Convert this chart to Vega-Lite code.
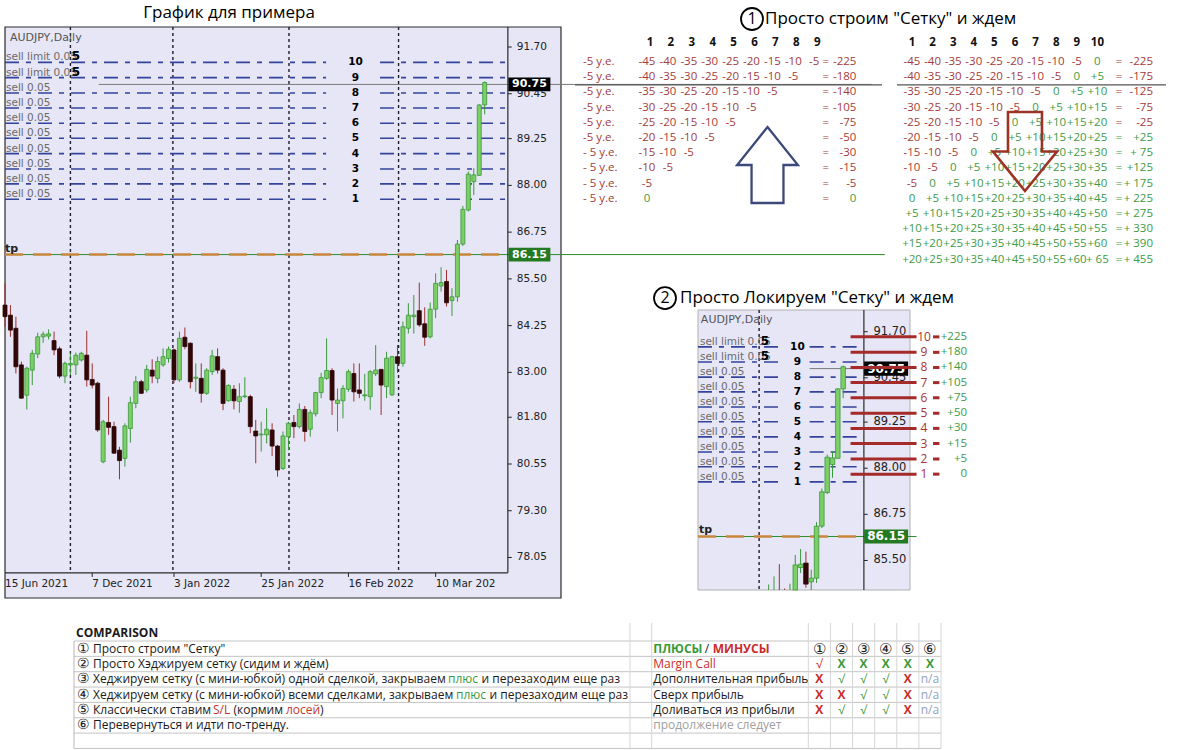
{
"$schema": "https://vega.github.io/schema/vega-lite/v6.json",
"background": "white",
"width": 1178, "height": 750,
"autosize": {"type": "none"},
"padding": 0,
"config": {"view": {"stroke": null}, "text": {"font": "Open Sans"}},
"resolve": {"scale": {"x": "independent", "y": "independent"}},
"datasets": {
"ohlc": [
{"i":0,"o":84.8,"h":85.38,"l":84.22,"c":84.49},
{"i":1,"o":84.53,"h":84.8,"l":83.95,"c":84.13},
{"i":2,"o":84.18,"h":84.49,"l":82.97,"c":83.15},
{"i":3,"o":83.2,"h":83.29,"l":82.3,"c":82.31},
{"i":4,"o":82.39,"h":83.15,"l":82.01,"c":83.11},
{"i":5,"o":83.06,"h":83.6,"l":82.66,"c":83.51},
{"i":6,"o":83.49,"h":84.06,"l":83.38,"c":83.95},
{"i":7,"o":83.95,"h":84.09,"l":83.79,"c":84.02},
{"i":8,"o":83.97,"h":84.15,"l":83.88,"c":84.03},
{"i":9,"o":83.85,"h":84.09,"l":83.46,"c":83.6},
{"i":10,"o":83.63,"h":83.69,"l":82.84,"c":82.9},
{"i":11,"o":82.9,"h":83.29,"l":82.71,"c":83.24},
{"i":12,"o":83.2,"h":83.51,"l":82.93,"c":83.24},
{"i":13,"o":83.2,"h":83.53,"l":82.93,"c":83.46},
{"i":14,"o":83.33,"h":83.55,"l":83.29,"c":83.51},
{"i":15,"o":83.46,"h":84.11,"l":82.62,"c":82.8},
{"i":16,"o":82.81,"h":83.24,"l":82.57,"c":82.66},
{"i":17,"o":82.71,"h":82.75,"l":81.41,"c":81.46},
{"i":18,"o":80.61,"h":81.73,"l":80.57,"c":81.68},
{"i":19,"o":81.66,"h":82.35,"l":81.33,"c":81.53},
{"i":20,"o":81.55,"h":81.68,"l":80.82,"c":80.84},
{"i":21,"o":80.92,"h":81.01,"l":80.14,"c":80.64},
{"i":22,"o":80.7,"h":81.64,"l":80.48,"c":81.57},
{"i":23,"o":81.5,"h":82.35,"l":81.12,"c":82.19},
{"i":24,"o":82.17,"h":82.9,"l":82.04,"c":82.75},
{"i":25,"o":82.75,"h":82.8,"l":82.42,"c":82.44},
{"i":26,"o":82.53,"h":83.2,"l":82.46,"c":83.08},
{"i":27,"o":83.06,"h":83.35,"l":82.71,"c":82.9},
{"i":28,"o":82.84,"h":83.42,"l":82.71,"c":83.29},
{"i":29,"o":83.2,"h":83.64,"l":83.15,"c":83.42},
{"i":30,"o":83.37,"h":83.69,"l":83.26,"c":83.62},
{"i":31,"o":83.6,"h":83.64,"l":82.71,"c":82.8},
{"i":32,"o":82.8,"h":84.09,"l":82.75,"c":83.91},
{"i":33,"o":83.94,"h":84.2,"l":83.62,"c":83.69},
{"i":34,"o":83.78,"h":83.8,"l":82.57,"c":82.75},
{"i":35,"o":82.84,"h":83.24,"l":82.48,"c":82.87},
{"i":36,"o":82.84,"h":83.24,"l":82.19,"c":82.44},
{"i":37,"o":82.44,"h":83.11,"l":82.4,"c":83.06},
{"i":38,"o":83.02,"h":83.6,"l":82.93,"c":83.44},
{"i":39,"o":83.42,"h":83.64,"l":82.97,"c":83.06},
{"i":40,"o":83.06,"h":83.11,"l":81.99,"c":82.17},
{"i":41,"o":82.24,"h":82.68,"l":82.22,"c":82.65},
{"i":42,"o":82.55,"h":82.66,"l":82.01,"c":82.24},
{"i":43,"o":82.22,"h":82.71,"l":81.92,"c":82.35},
{"i":44,"o":82.35,"h":82.87,"l":82.31,"c":82.37},
{"i":45,"o":82.35,"h":82.4,"l":81.37,"c":81.55},
{"i":46,"o":81.43,"h":81.73,"l":80.57,"c":81.3},
{"i":47,"o":81.33,"h":81.68,"l":80.88,"c":81.35},
{"i":48,"o":81.33,"h":82.04,"l":81.1,"c":81.48},
{"i":49,"o":81.46,"h":81.64,"l":80.76,"c":81.03},
{"i":50,"o":81.03,"h":81.06,"l":80.21,"c":80.39},
{"i":51,"o":80.43,"h":81.42,"l":80.39,"c":81.3},
{"i":52,"o":81.28,"h":81.68,"l":80.92,"c":81.64},
{"i":53,"o":81.66,"h":81.86,"l":81.24,"c":81.55},
{"i":54,"o":81.55,"h":82.17,"l":81.5,"c":82.01},
{"i":55,"o":82.01,"h":82.1,"l":81.15,"c":81.42},
{"i":56,"o":81.48,"h":82.0,"l":81.28,"c":81.92},
{"i":57,"o":81.89,"h":82.48,"l":81.82,"c":82.46},
{"i":58,"o":82.46,"h":82.99,"l":82.31,"c":82.86},
{"i":59,"o":82.84,"h":83.91,"l":82.8,"c":83.05},
{"i":60,"o":83.05,"h":83.11,"l":81.86,"c":82.26},
{"i":61,"o":82.17,"h":82.57,"l":81.42,"c":82.26},
{"i":62,"o":82.24,"h":82.66,"l":81.77,"c":82.57},
{"i":63,"o":82.55,"h":83.08,"l":82.48,"c":83.02},
{"i":64,"o":82.97,"h":83.24,"l":82.22,"c":82.48},
{"i":65,"o":82.53,"h":83.24,"l":82.31,"c":82.44},
{"i":66,"o":82.37,"h":82.96,"l":82.24,"c":82.4},
{"i":67,"o":82.35,"h":83.06,"l":82.0,"c":83.02},
{"i":68,"o":82.96,"h":83.73,"l":82.9,"c":83.06},
{"i":69,"o":83.08,"h":83.08,"l":81.86,"c":82.66},
{"i":70,"o":82.62,"h":83.55,"l":82.31,"c":83.38},
{"i":71,"o":82.4,"h":83.44,"l":82.37,"c":83.42},
{"i":72,"o":83.42,"h":83.73,"l":82.99,"c":83.24},
{"i":73,"o":83.24,"h":84.36,"l":83.15,"c":84.22},
{"i":74,"o":84.18,"h":84.85,"l":84.04,"c":84.53},
{"i":75,"o":84.49,"h":85.07,"l":84.04,"c":84.53},
{"i":76,"o":84.65,"h":85.4,"l":84.22,"c":84.27},
{"i":77,"o":84.3,"h":84.74,"l":83.71,"c":83.94},
{"i":78,"o":83.95,"h":84.87,"l":83.91,"c":84.69},
{"i":79,"o":84.69,"h":85.65,"l":84.45,"c":85.38},
{"i":80,"o":85.31,"h":85.81,"l":85.16,"c":85.4},
{"i":81,"o":85.43,"h":85.74,"l":84.76,"c":84.86},
{"i":82,"o":84.92,"h":85.25,"l":84.51,"c":85.02},
{"i":83,"o":85.02,"h":86.54,"l":84.89,"c":86.43},
{"i":84,"o":86.43,"h":87.45,"l":86.38,"c":87.36},
{"i":85,"o":87.34,"h":88.37,"l":87.3,"c":88.3},
{"i":86,"o":88.1,"h":88.46,"l":87.74,"c":88.28},
{"i":87,"o":88.27,"h":90.17,"l":88.25,"c":90.15},
{"i":88,"o":90.15,"h":90.78,"l":89.9,"c":90.75}
],
"levels": [
{"k":1,"p":87.63,"lab":"sell 0.05"},{"k":2,"p":88.04,"lab":"sell 0.05"},{"k":3,"p":88.44,"lab":"sell 0.05"},{"k":4,"p":88.85,"lab":"sell 0.05"},{"k":5,"p":89.26,"lab":"sell 0.05"},{"k":6,"p":89.66,"lab":"sell 0.05"},{"k":7,"p":90.07,"lab":"sell 0.05"},{"k":8,"p":90.47,"lab":"sell 0.05"},{"k":9,"p":90.88,"lab":"sell limit 0.05"},{"k":10,"p":91.29,"lab":"sell limit 0.05"}
],
"seps": [{"i":12},{"i":30.8},{"i":52.1},{"i":72.2}],
"yt": [{"v":91.7},{"v":90.45},{"v":89.25},{"v":88.0},{"v":86.75},{"v":85.5},{"v":84.25},{"v":83.0},{"v":81.8},{"v":80.55},{"v":79.3},{"v":78.05}],
"xt": [{"i":0,"lab":"15 Jun 2021"},{"i":16,"lab":"7 Dec 2021"},{"i":31,"lab":"3 Jan 2022"},{"i":47,"lab":"25 Jan 2022"},{"i":63,"lab":"16 Feb 2022"},{"i":79,"lab":"10 Mar 202"}],
"marks": [{"t":"90.75","p":90.7,"g":"bid"},{"t":"86.15","p":86.15,"g":"tp"}],
"hedge": [
{"k":1,"p":87.84,"v":"0"},{"k":2,"p":88.25,"v":"+5"},{"k":3,"p":88.67,"v":"+15"},{"k":4,"p":89.08,"v":"+30"},{"k":5,"p":89.49,"v":"+50"},{"k":6,"p":89.91,"v":"+75"},{"k":7,"p":90.32,"v":"+105"},{"k":8,"p":90.73,"v":"+140"},{"k":9,"p":91.14,"v":"+180"},{"k":10,"p":91.56,"v":"+225"}
],
"h1": [{"c":1,"t":"1"},{"c":2,"t":"2"},{"c":3,"t":"3"},{"c":4,"t":"4"},{"c":5,"t":"5"},{"c":6,"t":"6"},{"c":7,"t":"7"},{"c":8,"t":"8"},{"c":9,"t":"9"}],
"h2": [{"c":1,"t":"1"},{"c":2,"t":"2"},{"c":3,"t":"3"},{"c":4,"t":"4"},{"c":5,"t":"5"},{"c":6,"t":"6"},{"c":7,"t":"7"},{"c":8,"t":"8"},{"c":9,"t":"9"},{"c":10,"t":"10"}],
"t1": [
{"r":1,"c":1,"t":"-45"},{"r":1,"c":2,"t":"-40"},{"r":1,"c":3,"t":"-35"},{"r":1,"c":4,"t":"-30"},{"r":1,"c":5,"t":"-25"},{"r":1,"c":6,"t":"-20"},{"r":1,"c":7,"t":"-15"},{"r":1,"c":8,"t":"-10"},{"r":1,"c":9,"t":"-5"},
{"r":2,"c":1,"t":"-40"},{"r":2,"c":2,"t":"-35"},{"r":2,"c":3,"t":"-30"},{"r":2,"c":4,"t":"-25"},{"r":2,"c":5,"t":"-20"},{"r":2,"c":6,"t":"-15"},{"r":2,"c":7,"t":"-10"},{"r":2,"c":8,"t":"-5"},
{"r":3,"c":1,"t":"-35"},{"r":3,"c":2,"t":"-30"},{"r":3,"c":3,"t":"-25"},{"r":3,"c":4,"t":"-20"},{"r":3,"c":5,"t":"-15"},{"r":3,"c":6,"t":"-10"},{"r":3,"c":7,"t":"-5"},
{"r":4,"c":1,"t":"-30"},{"r":4,"c":2,"t":"-25"},{"r":4,"c":3,"t":"-20"},{"r":4,"c":4,"t":"-15"},{"r":4,"c":5,"t":"-10"},{"r":4,"c":6,"t":"-5"},
{"r":5,"c":1,"t":"-25"},{"r":5,"c":2,"t":"-20"},{"r":5,"c":3,"t":"-15"},{"r":5,"c":4,"t":"-10"},{"r":5,"c":5,"t":"-5"},
{"r":6,"c":1,"t":"-20"},{"r":6,"c":2,"t":"-15"},{"r":6,"c":3,"t":"-10"},{"r":6,"c":4,"t":"-5"},
{"r":7,"c":1,"t":"-15"},{"r":7,"c":2,"t":"-10"},{"r":7,"c":3,"t":"-5"},
{"r":8,"c":1,"t":"-10"},{"r":8,"c":2,"t":"-5"},
{"r":9,"c":1,"t":"-5"},
{"r":10,"c":1,"t":"0"}
],
"t1r": [
{"r":1,"lab":"-5 у.е.","s":"-225"},{"r":2,"lab":"-5 у.е.","s":"-180"},{"r":3,"lab":"-5 у.е.","s":"-140"},{"r":4,"lab":"-5 у.е.","s":"-105"},{"r":5,"lab":"-5 у.е.","s":"-75"},{"r":6,"lab":"-5 у.е.","s":"-50"},{"r":7,"lab":"- 5 у.е.","s":"-30"},{"r":8,"lab":"- 5 у.е.","s":"-15"},{"r":9,"lab":"- 5 у.е.","s":"-5"},{"r":10,"lab":"- 5 у.е.","s":"0"}
],
"t2": [
{"r":1,"c":1,"t":"-45"},{"r":1,"c":2,"t":"-40"},{"r":1,"c":3,"t":"-35"},{"r":1,"c":4,"t":"-30"},{"r":1,"c":5,"t":"-25"},{"r":1,"c":6,"t":"-20"},{"r":1,"c":7,"t":"-15"},{"r":1,"c":8,"t":"-10"},{"r":1,"c":9,"t":"-5"},{"r":1,"c":10,"t":"0"},
{"r":2,"c":1,"t":"-40"},{"r":2,"c":2,"t":"-35"},{"r":2,"c":3,"t":"-30"},{"r":2,"c":4,"t":"-25"},{"r":2,"c":5,"t":"-20"},{"r":2,"c":6,"t":"-15"},{"r":2,"c":7,"t":"-10"},{"r":2,"c":8,"t":"-5"},{"r":2,"c":9,"t":"0"},{"r":2,"c":10,"t":"+5"},
{"r":3,"c":1,"t":"-35"},{"r":3,"c":2,"t":"-30"},{"r":3,"c":3,"t":"-25"},{"r":3,"c":4,"t":"-20"},{"r":3,"c":5,"t":"-15"},{"r":3,"c":6,"t":"-10"},{"r":3,"c":7,"t":"-5"},{"r":3,"c":8,"t":"0"},{"r":3,"c":9,"t":"+5"},{"r":3,"c":10,"t":"+10"},
{"r":4,"c":1,"t":"-30"},{"r":4,"c":2,"t":"-25"},{"r":4,"c":3,"t":"-20"},{"r":4,"c":4,"t":"-15"},{"r":4,"c":5,"t":"-10"},{"r":4,"c":6,"t":"-5"},{"r":4,"c":7,"t":"0"},{"r":4,"c":8,"t":"+5"},{"r":4,"c":9,"t":"+10"},{"r":4,"c":10,"t":"+15"},
{"r":5,"c":1,"t":"-25"},{"r":5,"c":2,"t":"-20"},{"r":5,"c":3,"t":"-15"},{"r":5,"c":4,"t":"-10"},{"r":5,"c":5,"t":"-5"},{"r":5,"c":6,"t":"0"},{"r":5,"c":7,"t":"+5"},{"r":5,"c":8,"t":"+10"},{"r":5,"c":9,"t":"+15"},{"r":5,"c":10,"t":"+20"},
{"r":6,"c":1,"t":"-20"},{"r":6,"c":2,"t":"-15"},{"r":6,"c":3,"t":"-10"},{"r":6,"c":4,"t":"-5"},{"r":6,"c":5,"t":"0"},{"r":6,"c":6,"t":"+5"},{"r":6,"c":7,"t":"+10"},{"r":6,"c":8,"t":"+15"},{"r":6,"c":9,"t":"+20"},{"r":6,"c":10,"t":"+25"},
{"r":7,"c":1,"t":"-15"},{"r":7,"c":2,"t":"-10"},{"r":7,"c":3,"t":"-5"},{"r":7,"c":4,"t":"0"},{"r":7,"c":5,"t":"+5"},{"r":7,"c":6,"t":"+10"},{"r":7,"c":7,"t":"+15"},{"r":7,"c":8,"t":"+20"},{"r":7,"c":9,"t":"+25"},{"r":7,"c":10,"t":"+30"},
{"r":8,"c":1,"t":"-10"},{"r":8,"c":2,"t":"-5"},{"r":8,"c":3,"t":"0"},{"r":8,"c":4,"t":"+5"},{"r":8,"c":5,"t":"+10"},{"r":8,"c":6,"t":"+15"},{"r":8,"c":7,"t":"+20"},{"r":8,"c":8,"t":"+25"},{"r":8,"c":9,"t":"+30"},{"r":8,"c":10,"t":"+35"},
{"r":9,"c":1,"t":"-5"},{"r":9,"c":2,"t":"0"},{"r":9,"c":3,"t":"+5"},{"r":9,"c":4,"t":"+10"},{"r":9,"c":5,"t":"+15"},{"r":9,"c":6,"t":"+20"},{"r":9,"c":7,"t":"+25"},{"r":9,"c":8,"t":"+30"},{"r":9,"c":9,"t":"+35"},{"r":9,"c":10,"t":"+40"},
{"r":10,"c":1,"t":"0"},{"r":10,"c":2,"t":"+5"},{"r":10,"c":3,"t":"+10"},{"r":10,"c":4,"t":"+15"},{"r":10,"c":5,"t":"+20"},{"r":10,"c":6,"t":"+25"},{"r":10,"c":7,"t":"+30"},{"r":10,"c":8,"t":"+35"},{"r":10,"c":9,"t":"+40"},{"r":10,"c":10,"t":"+45"},
{"r":11,"c":1,"t":"+5"},{"r":11,"c":2,"t":"+10"},{"r":11,"c":3,"t":"+15"},{"r":11,"c":4,"t":"+20"},{"r":11,"c":5,"t":"+25"},{"r":11,"c":6,"t":"+30"},{"r":11,"c":7,"t":"+35"},{"r":11,"c":8,"t":"+40"},{"r":11,"c":9,"t":"+45"},{"r":11,"c":10,"t":"+50"},
{"r":12,"c":1,"t":"+10"},{"r":12,"c":2,"t":"+15"},{"r":12,"c":3,"t":"+20"},{"r":12,"c":4,"t":"+25"},{"r":12,"c":5,"t":"+30"},{"r":12,"c":6,"t":"+35"},{"r":12,"c":7,"t":"+40"},{"r":12,"c":8,"t":"+45"},{"r":12,"c":9,"t":"+50"},{"r":12,"c":10,"t":"+55"},
{"r":13,"c":1,"t":"+15"},{"r":13,"c":2,"t":"+20"},{"r":13,"c":3,"t":"+25"},{"r":13,"c":4,"t":"+30"},{"r":13,"c":5,"t":"+35"},{"r":13,"c":6,"t":"+40"},{"r":13,"c":7,"t":"+45"},{"r":13,"c":8,"t":"+50"},{"r":13,"c":9,"t":"+55"},{"r":13,"c":10,"t":"+60"},
{"r":14,"c":1,"t":"+20"},{"r":14,"c":2,"t":"+25"},{"r":14,"c":3,"t":"+30"},{"r":14,"c":4,"t":"+35"},{"r":14,"c":5,"t":"+40"},{"r":14,"c":6,"t":"+45"},{"r":14,"c":7,"t":"+50"},{"r":14,"c":8,"t":"+55"},{"r":14,"c":9,"t":"+60"},{"r":14,"c":10,"t":"+ 65"}
],
"t2r": [
{"r":1,"s":"-225"},{"r":2,"s":"-175"},{"r":3,"s":"-125"},{"r":4,"s":"-75"},{"r":5,"s":"-25"},{"r":6,"s":"+25"},{"r":7,"s":"+ 75"},{"r":8,"s":"+125"},{"r":9,"s":"+ 175"},{"r":10,"s":"+ 225"},{"r":11,"s":"+ 275"},{"r":12,"s":"+ 330"},{"r":13,"s":"+ 390"},{"r":14,"s":"+ 455"}
],
"desc": [
{"r":1,"n":"①","t":"Просто строим \"Сетку\""},
{"r":2,"n":"②","t":"Просто Хэджируем сетку (сидим и ждём)"},
{"r":3,"n":"③","t":"Хеджируем сетку (с мини-юбкой) одной сделкой, закрываем"},
{"r":4,"n":"④","t":"Хеджируем сетку (с мини-юбкой) всеми сделками, закрываем"},
{"r":5,"n":"⑤","t":"Классически ставим"},
{"r":6,"n":"⑥","t":"Перевернуться и идти по-тренду."}
],
"pm": [
{"r":2,"t":"Margin Call","k":"bad"},{"r":3,"t":"Дополнительная прибыль","k":"neutral"},{"r":4,"t":"Сверх прибыль","k":"neutral"},{"r":5,"t":"Доливаться из прибыли","k":"neutral"},{"r":6,"t":"продолжение следует","k":"later"}
],
"cmp": [
{"r":1,"c":3.5,"t":"①","k":"neutral"},{"r":1,"c":4.5,"t":"②","k":"neutral"},{"r":1,"c":5.5,"t":"③","k":"neutral"},{"r":1,"c":6.5,"t":"④","k":"neutral"},{"r":1,"c":7.5,"t":"⑤","k":"neutral"},{"r":1,"c":8.5,"t":"⑥","k":"neutral"},
{"r":2,"c":3.5,"t":"√","k":"bad"},{"r":2,"c":4.5,"t":"X","k":"good"},{"r":2,"c":5.5,"t":"X","k":"good"},{"r":2,"c":6.5,"t":"X","k":"good"},{"r":2,"c":7.5,"t":"X","k":"good"},{"r":2,"c":8.5,"t":"X","k":"good"},
{"r":3,"c":3.5,"t":"X","k":"bad"},{"r":3,"c":4.5,"t":"√","k":"good"},{"r":3,"c":5.5,"t":"√","k":"good"},{"r":3,"c":6.5,"t":"√","k":"good"},{"r":3,"c":7.5,"t":"X","k":"bad"},{"r":3,"c":8.5,"t":"n/a","k":"na"},
{"r":4,"c":3.5,"t":"X","k":"bad"},{"r":4,"c":4.5,"t":"X","k":"bad"},{"r":4,"c":5.5,"t":"√","k":"good"},{"r":4,"c":6.5,"t":"√","k":"good"},{"r":4,"c":7.5,"t":"X","k":"bad"},{"r":4,"c":8.5,"t":"n/a","k":"na"},
{"r":5,"c":3.5,"t":"X","k":"bad"},{"r":5,"c":4.5,"t":"√","k":"good"},{"r":5,"c":5.5,"t":"√","k":"good"},{"r":5,"c":6.5,"t":"√","k":"good"},{"r":5,"c":7.5,"t":"X","k":"bad"},{"r":5,"c":8.5,"t":"n/a","k":"na"}
]
},
"layer": [
{
"layer": [
{"data": {"values": [{}]}, "mark": {"type": "rect", "fill": "#e6e6f7", "stroke": "#2a2a2a", "strokeWidth": 1.2},
 "encoding": {
  "x": {"datum": 0, "type": "quantitative", "scale": {"domain": [0, 102], "range": [0, 566], "nice": false, "zero": false}, "axis": null},
  "x2": {"datum": 102},
  "y": {"datum": 76.967, "type": "quantitative", "scale": {"domain": [76.967, 92.235], "range": [598, 27], "nice": false, "zero": false}, "axis": null},
  "y2": {"datum": 92.235}}},
{"data": {"name": "yt"}, "mark": {"type": "rule", "color": "#222", "strokeWidth": 1},
 "encoding": {"x": {"datum": 92.25, "type": "quantitative", "axis": null}, "x2": {"datum": 92.97}, "y": {"field": "v", "type": "quantitative", "axis": null}}},
{"data": {"name": "yt"}, "mark": {"type": "text", "align": "left", "baseline": "middle", "font": "DejaVu Sans", "fontSize": 10.5, "color": "#222"},
 "encoding": {"x": {"datum": 93.9, "type": "quantitative", "axis": null}, "y": {"field": "v", "type": "quantitative", "axis": null}, "text": {"field": "v", "type": "quantitative", "format": ".2f"}}},
{"data": {"name": "xt"}, "transform": [{"filter": "datum.i > 0"}], "mark": {"type": "rule", "color": "#222", "strokeWidth": 1},
 "encoding": {"x": {"field": "i", "type": "quantitative", "axis": null}, "y": {"datum": 77.64, "type": "quantitative", "axis": null}, "y2": {"datum": 77.53}}},
{"data": {"name": "xt"}, "mark": {"type": "text", "align": "left", "baseline": "top", "font": "DejaVu Sans", "fontSize": 10.5, "color": "#222"},
 "encoding": {"x": {"field": "i", "type": "quantitative", "axis": null}, "y": {"datum": 77.476, "type": "quantitative", "axis": null}, "text": {"field": "lab"}}},
{"data": {"name": "seps"}, "mark": {"type": "rule", "strokeDash": [3, 3], "strokeWidth": 1.4, "color": "#1c1c2c"},
 "encoding": {"x": {"field": "i", "type": "quantitative", "axis": null}, "y": {"datum": 92.235, "type": "quantitative", "axis": null}, "y2": {"datum": 77.64}}},
{"data": {"values": [{}]}, "mark": {"type": "rule", "color": "#2e8b2e", "strokeWidth": 1},
 "encoding": {"x": {"datum": 0, "type": "quantitative", "axis": null}, "x2": {"datum": 161.4}, "y": {"datum": 86.15, "type": "quantitative", "axis": null}}},
{"data": {"values": [{}]}, "mark": {"type": "rule", "color": "#c9873c", "strokeWidth": 2.6, "strokeDash": [18, 10]},
 "encoding": {"x": {"datum": 0, "type": "quantitative", "axis": null}, "x2": {"datum": 92.25}, "y": {"datum": 86.15, "type": "quantitative", "axis": null}}},
{"data": {"name": "levels"}, "mark": {"type": "rule", "color": "#34449a", "strokeWidth": 1.6, "strokeDash": [14, 7, 5, 7]},
 "encoding": {"x": {"datum": 0, "type": "quantitative", "axis": null}, "x2": {"datum": 58.9}, "y": {"field": "p", "type": "quantitative", "axis": null}}},
{"data": {"name": "levels"}, "mark": {"type": "rule", "color": "#34449a", "strokeWidth": 1.6, "strokeDash": [14, 7, 5, 7]},
 "encoding": {"x": {"datum": 68.8, "type": "quantitative", "axis": null}, "x2": {"datum": 92.25}, "y": {"field": "p", "type": "quantitative", "axis": null}}},
{"data": {"values": [{}]}, "mark": {"type": "rule", "color": "#7a7a7a", "strokeWidth": 1},
 "encoding": {"x": {"datum": 17.2, "type": "quantitative", "axis": null}, "x2": {"datum": 159}, "y": {"datum": 90.7, "type": "quantitative", "axis": null}}},
{"data": {"name": "ohlc"}, "mark": {"type": "rule", "clip": true, "strokeWidth": 1},
 "encoding": {"x": {"field": "i", "type": "quantitative", "axis": null}, "y": {"field": "l", "type": "quantitative", "axis": null}, "y2": {"field": "h"},
  "color": {"condition": {"test": "datum.c >= datum.o", "value": "#3a983a"}, "value": "#9e2f2f"}}},
{"data": {"name": "ohlc"}, "mark": {"type": "bar", "size": 4, "clip": true, "strokeWidth": 0.8},
 "encoding": {"x": {"field": "i", "type": "quantitative", "axis": null}, "y": {"field": "o", "type": "quantitative", "axis": null}, "y2": {"field": "c"},
  "fill": {"condition": {"test": "datum.c >= datum.o", "value": "#7ccf66"}, "value": "#300606"},
  "stroke": {"condition": {"test": "datum.c >= datum.o", "value": "#3a983a"}, "value": "#300606"}}},
{"data": {"name": "levels"}, "mark": {"type": "text", "align": "left", "baseline": "bottom", "font": "DejaVu Sans", "fontSize": 10.5, "color": "#6b6b6b", "dx": 1},
 "encoding": {"x": {"datum": 0, "type": "quantitative", "axis": null}, "y": {"field": "p", "type": "quantitative", "axis": null}, "text": {"field": "lab"}}},
{"data": {"name": "levels"}, "transform": [{"filter": "datum.k >= 9"}], "mark": {"type": "text", "align": "center", "baseline": "bottom", "font": "DejaVu Sans", "fontSize": 12, "fontWeight": "bold", "color": "#000", "dy": 1},
 "encoding": {"x": {"datum": 13.0, "type": "quantitative", "axis": null}, "y": {"field": "p", "type": "quantitative", "axis": null}, "text": {"value": "5"}}},
{"data": {"name": "levels"}, "mark": {"type": "text", "align": "center", "baseline": "middle", "font": "DejaVu Sans", "fontSize": 10.5, "fontWeight": "bold", "color": "#000"},
 "encoding": {"x": {"datum": 64.3, "type": "quantitative", "axis": null}, "y": {"field": "p", "type": "quantitative", "axis": null}, "text": {"field": "k"}}},
{"data": {"values": [{"t": "AUDJPY,Daily"}]}, "mark": {"type": "text", "align": "left", "baseline": "middle", "font": "DejaVu Sans", "fontSize": 11, "color": "#555"},
 "encoding": {"x": {"datum": 0.9, "type": "quantitative", "axis": null}, "y": {"datum": 91.94, "type": "quantitative", "axis": null}, "text": {"field": "t"}}},
{"data": {"values": [{"t": "tp"}]}, "mark": {"type": "text", "align": "left", "baseline": "bottom", "font": "DejaVu Sans", "fontSize": 11, "fontWeight": "bold", "color": "#222", "dy": -1},
 "encoding": {"x": {"datum": 0, "type": "quantitative", "axis": null}, "y": {"datum": 86.15, "type": "quantitative", "axis": null}, "text": {"field": "t"}}},
{"data": {"values": [{"t": "График для примера"}]}, "mark": {"type": "text", "align": "center", "baseline": "middle", "font": "Open Sans", "fontSize": 17, "color": "#000"},
 "encoding": {"x": {"datum": 41.1, "type": "quantitative", "axis": null}, "y": {"datum": 92.609, "type": "quantitative", "axis": null}, "text": {"field": "t"}}},
{"data": {"values": [{}]}, "mark": {"type": "rule", "color": "#2a2a2a", "strokeWidth": 1.2},
 "encoding": {"x": {"datum": 92.25, "type": "quantitative", "axis": null}, "y": {"datum": 92.235, "type": "quantitative", "axis": null}, "y2": {"datum": 77.64}}},
{"data": {"values": [{}]}, "mark": {"type": "rule", "color": "#2a2a2a", "strokeWidth": 1.2},
 "encoding": {"x": {"datum": 0, "type": "quantitative", "axis": null}, "x2": {"datum": 92.25}, "y": {"datum": 77.64, "type": "quantitative", "axis": null}}},
{"data": {"name": "marks"}, "mark": {"type": "point", "shape": "M-1,-0.33L1,-0.33L1,0.33L-1,0.33Z", "size": 1764, "filled": true, "opacity": 1, "strokeWidth": 0},
 "encoding": {"x": {"datum": 96.2, "type": "quantitative", "axis": null}, "y": {"field": "p", "type": "quantitative", "axis": null},
  "fill": {"condition": {"test": "datum.g == 'tp'", "value": "#237a23"}, "value": "#000"}}},
{"data": {"name": "marks"}, "mark": {"type": "text", "align": "center", "baseline": "middle", "font": "DejaVu Sans", "fontSize": 11, "fontWeight": "bold", "color": "#fff"},
 "encoding": {"x": {"datum": 96.2, "type": "quantitative", "axis": null}, "y": {"field": "p", "type": "quantitative", "axis": null}, "text": {"field": "t"}}}
]
},
{
"layer": [
{"data": {"values": [{}]}, "mark": {"type": "rule", "color": "#555", "strokeWidth": 1.2},
 "encoding": {"x": {"datum": -2.445, "type": "quantitative", "scale": {"domain": [-2.445, 12.244], "range": [575, 882], "nice": false, "zero": false}, "axis": null}, "x2": {"datum": 12.244},
  "y": {"datum": 2.5, "type": "quantitative", "scale": {"domain": [-1.303, 14.684], "range": [27, 270], "nice": false, "zero": false}, "axis": null}}},
{"data": {"name": "t1r"}, "mark": {"type": "text", "align": "left", "baseline": "middle", "fontSize": 11.5, "color": "#a33b3b"},
 "encoding": {"x": {"datum": -2.06, "type": "quantitative", "axis": null}, "y": {"field": "r", "type": "quantitative", "axis": null}, "text": {"field": "lab"}}},
{"data": {"name": "t1"}, "mark": {"type": "text", "align": "center", "baseline": "middle", "fontSize": 11.5},
 "encoding": {"x": {"field": "c", "type": "quantitative", "axis": null}, "y": {"field": "r", "type": "quantitative", "axis": null}, "text": {"field": "t"},
  "color": {"condition": {"test": "datum.t[0] == '-'", "value": "#a33b3b"}, "value": "#3d9a45"}}},
{"data": {"name": "t1r"}, "mark": {"type": "text", "align": "center", "baseline": "middle", "fontSize": 11.5, "color": "#a33b3b"},
 "encoding": {"x": {"datum": 9.55, "type": "quantitative", "axis": null}, "y": {"field": "r", "type": "quantitative", "axis": null}, "text": {"value": "="}}},
{"data": {"name": "t1r"}, "mark": {"type": "text", "align": "right", "baseline": "middle", "fontSize": 11.5},
 "encoding": {"x": {"datum": 11.02, "type": "quantitative", "axis": null}, "y": {"field": "r", "type": "quantitative", "axis": null}, "text": {"field": "s"},
  "color": {"condition": {"test": "datum.s[0] == '-'", "value": "#a33b3b"}, "value": "#3d9a45"}}},
{"data": {"name": "h1"}, "mark": {"type": "text", "align": "center", "baseline": "middle", "fontSize": 11.5, "fontWeight": "bold", "color": "#111", "dx": 3},
 "encoding": {"x": {"field": "c", "type": "quantitative", "axis": null}, "y": {"datum": -0.25, "type": "quantitative", "axis": null}, "text": {"field": "t"}}},
{"data": {"values": [{}]}, "mark": {"type": "point", "shape": "M0,-1L0.8,0L0.42,0L0.42,1L-0.42,1L-0.42,0L-0.8,0Z", "size": 5776, "filled": false, "opacity": 1, "stroke": "#3b4a7a", "strokeWidth": 2.3},
 "encoding": {"x": {"datum": 6.766, "type": "quantitative", "axis": null}, "y": {"datum": 7.776, "type": "quantitative", "axis": null}}},
{"data": {"values": [{"x": 6.024, "y": -1.829}, {"x": 1.861, "y": 16.53}]}, "mark": {"type": "point", "shape": "circle", "size": 484, "filled": false, "opacity": 1, "stroke": "#000", "strokeWidth": 1.8},
 "encoding": {"x": {"field": "x", "type": "quantitative", "axis": null}, "y": {"field": "y", "type": "quantitative", "axis": null}}},
{"data": {"values": [{"x": 6.024, "y": -1.829, "t": "1"}, {"x": 1.861, "y": 16.53, "t": "2"}]}, "mark": {"type": "text", "align": "center", "baseline": "middle", "fontSize": 16, "color": "#000"},
 "encoding": {"x": {"field": "x", "type": "quantitative", "axis": null}, "y": {"field": "y", "type": "quantitative", "axis": null}, "text": {"field": "t"}}},
{"data": {"values": [{"t": "Просто строим \"Сетку\" и ждем"}]}, "mark": {"type": "text", "align": "left", "baseline": "middle", "fontSize": 17, "color": "#000"},
 "encoding": {"x": {"datum": 6.646, "type": "quantitative", "axis": null}, "y": {"datum": -1.829, "type": "quantitative", "axis": null}, "text": {"field": "t"}}},
{"data": {"values": [{"t": "Просто Локируем \"Сетку\" и ждем"}]}, "mark": {"type": "text", "align": "left", "baseline": "middle", "fontSize": 17, "color": "#000"},
 "encoding": {"x": {"datum": 2.579, "type": "quantitative", "axis": null}, "y": {"datum": 16.53, "type": "quantitative", "axis": null}, "text": {"field": "t"}}}
]
},
{
"layer": [
{"data": {"values": [{}]}, "mark": {"type": "rule", "color": "#555", "strokeWidth": 1.2},
 "encoding": {"x": {"datum": 0.272, "type": "quantitative", "scale": {"domain": [0.175, 13.913], "range": [895, 1178], "nice": false, "zero": false}, "axis": null}, "x2": {"datum": 13.33},
  "y": {"datum": 2.5, "type": "quantitative", "scale": {"domain": [-1.303, 14.684], "range": [27, 270], "nice": false, "zero": false}, "axis": null}}},
{"data": {"name": "t2"}, "mark": {"type": "text", "align": "center", "baseline": "middle", "fontSize": 11.5},
 "encoding": {"x": {"field": "c", "type": "quantitative", "axis": null}, "y": {"field": "r", "type": "quantitative", "axis": null}, "text": {"field": "t"},
  "color": {"condition": {"test": "datum.t[0] == '-'", "value": "#a33b3b"}, "value": "#3d9a45"}}},
{"data": {"name": "t2r"}, "mark": {"type": "text", "align": "center", "baseline": "middle", "fontSize": 11.5},
 "encoding": {"x": {"datum": 11.05, "type": "quantitative", "axis": null}, "y": {"field": "r", "type": "quantitative", "axis": null}, "text": {"value": "="},
  "color": {"condition": {"test": "datum.s[0] == '-'", "value": "#a33b3b"}, "value": "#3d9a45"}}},
{"data": {"name": "t2r"}, "mark": {"type": "text", "align": "right", "baseline": "middle", "fontSize": 11.5},
 "encoding": {"x": {"datum": 12.7, "type": "quantitative", "axis": null}, "y": {"field": "r", "type": "quantitative", "axis": null}, "text": {"field": "s"},
  "color": {"condition": {"test": "datum.s[0] == '-'", "value": "#a33b3b"}, "value": "#3d9a45"}}},
{"data": {"name": "h2"}, "mark": {"type": "text", "align": "center", "baseline": "middle", "fontSize": 11.5, "fontWeight": "bold", "color": "#111"},
 "encoding": {"x": {"field": "c", "type": "quantitative", "axis": null}, "y": {"datum": -0.25, "type": "quantitative", "axis": null}, "text": {"field": "t"}}},
{"data": {"values": [{}]}, "mark": {"type": "point", "shape": "M-0.43,-1L0.43,-1L0.43,0L0.81,0L0,1L-0.81,0L-0.43,0Z", "size": 6241, "filled": false, "opacity": 1, "stroke": "#9c3426", "strokeWidth": 2.6},
 "encoding": {"x": {"datum": 6.485, "type": "quantitative", "axis": null}, "y": {"datum": 6.888, "type": "quantitative", "axis": null}}}
]
},
{
"layer": [
{"data": {"values": [{}]}, "mark": {"type": "rect", "fill": "#e6e6f7", "stroke": "#b0b0b0", "strokeWidth": 1},
 "encoding": {"x": {"datum": 60.71, "type": "quantitative", "scale": {"domain": [60.71, 100.57], "range": [693, 915], "nice": false, "zero": false}, "axis": null}, "x2": {"datum": 100.57},
  "y": {"datum": 84.7, "type": "quantitative", "scale": {"domain": [84.7, 92.288], "range": [590, 310], "nice": false, "zero": false, "clamp": true}, "axis": null},
  "y2": {"datum": 92.288}}},
{"data": {"name": "yt"}, "transform": [{"filter": "datum.v > 85"}], "mark": {"type": "rule", "color": "#222", "strokeWidth": 1},
 "encoding": {"x": {"datum": 91.9, "type": "quantitative", "axis": null}, "x2": {"datum": 92.62}, "y": {"field": "v", "type": "quantitative", "axis": null}}},
{"data": {"name": "yt"}, "transform": [{"filter": "datum.v > 85"}], "mark": {"type": "text", "align": "left", "baseline": "middle", "font": "DejaVu Sans", "fontSize": 11.5, "color": "#222"},
 "encoding": {"x": {"datum": 93.69, "type": "quantitative", "axis": null}, "y": {"field": "v", "type": "quantitative", "axis": null}, "text": {"field": "v", "type": "quantitative", "format": ".2f"}}},
{"data": {"values": [{}]}, "mark": {"type": "rule", "color": "#2e8b2e", "strokeWidth": 1},
 "encoding": {"x": {"datum": 60.71, "type": "quantitative", "axis": null}, "x2": {"datum": 101.8}, "y": {"datum": 86.15, "type": "quantitative", "axis": null}}},
{"data": {"name": "seps"}, "transform": [{"filter": "datum.i > 61"}], "mark": {"type": "rule", "strokeDash": [3, 3], "strokeWidth": 1.4, "color": "#1c1c2c"},
 "encoding": {"x": {"field": "i", "type": "quantitative", "axis": null}, "y": {"datum": 92.288, "type": "quantitative", "axis": null}, "y2": {"datum": 84.7}}},
{"data": {"values": [{}]}, "mark": {"type": "rule", "color": "#2a2a2a", "strokeWidth": 1.2},
 "encoding": {"x": {"datum": 91.9, "type": "quantitative", "axis": null}, "y": {"datum": 92.288, "type": "quantitative", "axis": null}, "y2": {"datum": 84.7}}},
{"data": {"values": [{}]}, "mark": {"type": "rule", "color": "#c9873c", "strokeWidth": 2.6, "strokeDash": [18, 10]},
 "encoding": {"x": {"datum": 60.71, "type": "quantitative", "axis": null}, "x2": {"datum": 91.9}, "y": {"datum": 86.15, "type": "quantitative", "axis": null}}},
{"data": {"name": "levels"}, "mark": {"type": "rule", "color": "#34449a", "strokeWidth": 1.6, "strokeDash": [14, 7, 5, 7]},
 "encoding": {"x": {"datum": 60.71, "type": "quantitative", "axis": null}, "x2": {"datum": 76.9}, "y": {"field": "p", "type": "quantitative", "axis": null}}},
{"data": {"name": "levels"}, "mark": {"type": "rule", "color": "#34449a", "strokeWidth": 1.6, "strokeDash": [14, 7, 5, 7]},
 "encoding": {"x": {"datum": 81.7, "type": "quantitative", "axis": null}, "x2": {"datum": 91.9}, "y": {"field": "p", "type": "quantitative", "axis": null}}},
{"data": {"values": [{}]}, "mark": {"type": "rule", "color": "#7a7a7a", "strokeWidth": 1},
 "encoding": {"x": {"datum": 81.7, "type": "quantitative", "axis": null}, "x2": {"datum": 91.9}, "y": {"datum": 90.7, "type": "quantitative", "axis": null}}},
{"data": {"name": "ohlc"}, "transform": [{"filter": "datum.i >= 62 && datum.h > 84.7"}], "mark": {"type": "rule", "strokeWidth": 1},
 "encoding": {"x": {"field": "i", "type": "quantitative", "axis": null}, "y": {"field": "l", "type": "quantitative", "axis": null}, "y2": {"field": "h"},
  "color": {"condition": {"test": "datum.c >= datum.o", "value": "#3a983a"}, "value": "#9e2f2f"}}},
{"data": {"name": "ohlc"}, "transform": [{"filter": "datum.i >= 62 && (datum.o > 84.7 || datum.c > 84.7)"}], "mark": {"type": "bar", "size": 4.5, "strokeWidth": 0.8},
 "encoding": {"x": {"field": "i", "type": "quantitative", "axis": null}, "y": {"field": "o", "type": "quantitative", "axis": null}, "y2": {"field": "c"},
  "fill": {"condition": {"test": "datum.c >= datum.o", "value": "#7ccf66"}, "value": "#300606"},
  "stroke": {"condition": {"test": "datum.c >= datum.o", "value": "#3a983a"}, "value": "#300606"}}},
{"data": {"name": "levels"}, "mark": {"type": "text", "align": "left", "baseline": "bottom", "font": "DejaVu Sans", "fontSize": 10.5, "color": "#6b6b6b"},
 "encoding": {"x": {"datum": 61.07, "type": "quantitative", "axis": null}, "y": {"field": "p", "type": "quantitative", "axis": null}, "text": {"field": "lab"}}},
{"data": {"name": "levels"}, "transform": [{"filter": "datum.k >= 9"}], "mark": {"type": "text", "align": "center", "baseline": "bottom", "font": "DejaVu Sans", "fontSize": 12, "fontWeight": "bold", "color": "#000", "dy": 1},
 "encoding": {"x": {"datum": 73.3, "type": "quantitative", "axis": null}, "y": {"field": "p", "type": "quantitative", "axis": null}, "text": {"value": "5"}}},
{"data": {"name": "levels"}, "mark": {"type": "text", "align": "center", "baseline": "middle", "font": "DejaVu Sans", "fontSize": 10.5, "fontWeight": "bold", "color": "#000"},
 "encoding": {"x": {"datum": 79.4, "type": "quantitative", "axis": null}, "y": {"field": "p", "type": "quantitative", "axis": null}, "text": {"field": "k"}}},
{"data": {"values": [{"t": "AUDJPY,Daily"}]}, "mark": {"type": "text", "align": "left", "baseline": "middle", "font": "DejaVu Sans", "fontSize": 11, "color": "#555"},
 "encoding": {"x": {"datum": 61.25, "type": "quantitative", "axis": null}, "y": {"datum": 92.02, "type": "quantitative", "axis": null}, "text": {"field": "t"}}},
{"data": {"values": [{"t": "tp"}]}, "mark": {"type": "text", "align": "left", "baseline": "bottom", "font": "DejaVu Sans", "fontSize": 11, "fontWeight": "bold", "color": "#222", "dx": 1, "dy": -1},
 "encoding": {"x": {"datum": 60.71, "type": "quantitative", "axis": null}, "y": {"datum": 86.15, "type": "quantitative", "axis": null}, "text": {"field": "t"}}},
{"data": {"name": "marks"}, "mark": {"type": "point", "shape": "M-1,-0.32L1,-0.32L1,0.32L-1,0.32Z", "size": 1936, "filled": true, "opacity": 1, "strokeWidth": 0},
 "encoding": {"x": {"datum": 96.08, "type": "quantitative", "axis": null}, "y": {"field": "p", "type": "quantitative", "axis": null},
  "fill": {"condition": {"test": "datum.g == 'tp'", "value": "#237a23"}, "value": "#000"}}},
{"data": {"name": "marks"}, "mark": {"type": "text", "align": "center", "baseline": "middle", "font": "DejaVu Sans", "fontSize": 12, "fontWeight": "bold", "color": "#fff"},
 "encoding": {"x": {"datum": 96.08, "type": "quantitative", "axis": null}, "y": {"field": "p", "type": "quantitative", "axis": null}, "text": {"field": "t"}}},
{"data": {"name": "hedge"}, "mark": {"type": "rule", "color": "#a52a2a", "strokeWidth": 3},
 "encoding": {"x": {"datum": 89.4, "type": "quantitative", "axis": null}, "x2": {"datum": 101.8}, "y": {"field": "p", "type": "quantitative", "axis": null}}},
{"data": {"name": "hedge"}, "mark": {"type": "text", "align": "center", "baseline": "middle", "fontSize": 12, "color": "#a83232"},
 "encoding": {"x": {"datum": 103.2, "type": "quantitative", "axis": null}, "y": {"field": "p", "type": "quantitative", "axis": null}, "text": {"field": "k"}}},
{"data": {"name": "hedge"}, "mark": {"type": "rule", "color": "#a52a2a", "strokeWidth": 3},
 "encoding": {"x": {"datum": 104.9, "type": "quantitative", "axis": null}, "x2": {"datum": 106.1}, "y": {"field": "p", "type": "quantitative", "axis": null}}},
{"data": {"name": "hedge"}, "mark": {"type": "text", "align": "right", "baseline": "middle", "fontSize": 11.5, "color": "#3d9a45"},
 "encoding": {"x": {"datum": 111.3, "type": "quantitative", "axis": null}, "y": {"field": "p", "type": "quantitative", "axis": null}, "text": {"field": "v"}}}
]
},
{
"layer": [
{"data": {"values": [{"g": 0.5}, {"g": 1.5}, {"g": 2.5}, {"g": 3.5}, {"g": 4.5}, {"g": 5.5}, {"g": 6.5}, {"g": 7.5}]}, "mark": {"type": "rule", "color": "#c4c4c4", "strokeWidth": 1},
 "encoding": {"x": {"datum": 0, "type": "quantitative", "scale": {"domain": [0, 1, 2, 3, 9], "range": [74, 630, 651.7, 808.3, 941], "nice": false, "zero": false}, "axis": null}, "x2": {"datum": 9},
  "y": {"field": "g", "type": "quantitative", "scale": {"domain": [-0.673, 7.601], "range": [623, 750], "nice": false, "zero": false}, "axis": null}}},
{"data": {"values": [{"b": 1}, {"b": 2}, {"b": 3}, {"b": 4}, {"b": 5}, {"b": 6}, {"b": 7}, {"b": 8}, {"b": 9}]}, "mark": {"type": "rule", "color": "#d6d6d6", "strokeWidth": 1},
 "encoding": {"x": {"field": "b", "type": "quantitative", "axis": null}, "y": {"datum": -0.673, "type": "quantitative", "axis": null}, "y2": {"datum": 7.5}}},
{"data": {"values": [{}]}, "mark": {"type": "rule", "color": "#b8b8b8", "strokeWidth": 1},
 "encoding": {"x": {"datum": 0, "type": "quantitative", "axis": null}, "y": {"datum": 0.5, "type": "quantitative", "axis": null}, "y2": {"datum": 7.5}}},
{"data": {"values": [{"r": 0, "t": "COMPARISON"}]}, "mark": {"type": "text", "align": "left", "baseline": "middle", "fontSize": 12, "fontWeight": "bold", "color": "#1a1a1a", "dx": 2},
 "encoding": {"x": {"datum": 0, "type": "quantitative", "axis": null}, "y": {"field": "r", "type": "quantitative", "axis": null}, "text": {"field": "t"}}},
{"data": {"name": "desc"}, "mark": {"type": "text", "align": "center", "baseline": "middle", "fontSize": 14, "color": "#1a1a1a", "dx": 9},
 "encoding": {"x": {"datum": 0, "type": "quantitative", "axis": null}, "y": {"field": "r", "type": "quantitative", "axis": null}, "text": {"field": "n"}}},
{"data": {"name": "desc"}, "mark": {"type": "text", "align": "left", "baseline": "middle", "fontSize": 12, "color": "#1a1a1a", "dx": 19},
 "encoding": {"x": {"datum": 0, "type": "quantitative", "axis": null}, "y": {"field": "r", "type": "quantitative", "axis": null}, "text": {"field": "t"}}},
{"data": {"values": [{"r": 3, "t": "плюс"}]}, "mark": {"type": "text", "align": "left", "baseline": "middle", "fontSize": 12, "color": "#3a9a3a", "dx": 374},
 "encoding": {"x": {"datum": 0, "type": "quantitative", "axis": null}, "y": {"field": "r", "type": "quantitative", "axis": null}, "text": {"field": "t"}}},
{"data": {"values": [{"r": 4, "t": "плюс"}]}, "mark": {"type": "text", "align": "left", "baseline": "middle", "fontSize": 12, "color": "#3a9a3a", "dx": 382},
 "encoding": {"x": {"datum": 0, "type": "quantitative", "axis": null}, "y": {"field": "r", "type": "quantitative", "axis": null}, "text": {"field": "t"}}},
{"data": {"values": [{"r": 3, "t": "и перезаходим еще раз"}]}, "mark": {"type": "text", "align": "left", "baseline": "middle", "fontSize": 12, "color": "#1a1a1a", "dx": 407.5},
 "encoding": {"x": {"datum": 0, "type": "quantitative", "axis": null}, "y": {"field": "r", "type": "quantitative", "axis": null}, "text": {"field": "t"}}},
{"data": {"values": [{"r": 4, "t": "и перезаходим еще раз"}]}, "mark": {"type": "text", "align": "left", "baseline": "middle", "fontSize": 12, "color": "#1a1a1a", "dx": 415.5},
 "encoding": {"x": {"datum": 0, "type": "quantitative", "axis": null}, "y": {"field": "r", "type": "quantitative", "axis": null}, "text": {"field": "t"}}},
{"data": {"values": [{"r": 5, "t": "S/L"}]}, "mark": {"type": "text", "align": "left", "baseline": "middle", "fontSize": 12, "color": "#c0392b", "dx": 139},
 "encoding": {"x": {"datum": 0, "type": "quantitative", "axis": null}, "y": {"field": "r", "type": "quantitative", "axis": null}, "text": {"field": "t"}}},
{"data": {"values": [{"r": 5, "t": "(кормим"}]}, "mark": {"type": "text", "align": "left", "baseline": "middle", "fontSize": 12, "color": "#1a1a1a", "dx": 159.5},
 "encoding": {"x": {"datum": 0, "type": "quantitative", "axis": null}, "y": {"field": "r", "type": "quantitative", "axis": null}, "text": {"field": "t"}}},
{"data": {"values": [{"r": 5, "t": "лосей"}]}, "mark": {"type": "text", "align": "left", "baseline": "middle", "fontSize": 12, "color": "#c0392b", "dx": 212},
 "encoding": {"x": {"datum": 0, "type": "quantitative", "axis": null}, "y": {"field": "r", "type": "quantitative", "axis": null}, "text": {"field": "t"}}},
{"data": {"values": [{"r": 5, "t": ")"}]}, "mark": {"type": "text", "align": "left", "baseline": "middle", "fontSize": 12, "color": "#1a1a1a", "dx": 246},
 "encoding": {"x": {"datum": 0, "type": "quantitative", "axis": null}, "y": {"field": "r", "type": "quantitative", "axis": null}, "text": {"field": "t"}}},
{"data": {"values": [{"r": 1, "t": "ПЛЮСЫ"}]}, "mark": {"type": "text", "align": "left", "baseline": "middle", "fontSize": 12, "fontWeight": "bold", "color": "#3a9a3a", "dx": 1.5},
 "encoding": {"x": {"datum": 2, "type": "quantitative", "axis": null}, "y": {"field": "r", "type": "quantitative", "axis": null}, "text": {"field": "t"}}},
{"data": {"values": [{"r": 1, "t": "/"}]}, "mark": {"type": "text", "align": "left", "baseline": "middle", "fontSize": 12, "color": "#1a1a1a", "dx": 53},
 "encoding": {"x": {"datum": 2, "type": "quantitative", "axis": null}, "y": {"field": "r", "type": "quantitative", "axis": null}, "text": {"field": "t"}}},
{"data": {"values": [{"r": 1, "t": "МИНУСЫ"}]}, "mark": {"type": "text", "align": "left", "baseline": "middle", "fontSize": 12, "fontWeight": "bold", "color": "#cc2b2b", "dx": 61},
 "encoding": {"x": {"datum": 2, "type": "quantitative", "axis": null}, "y": {"field": "r", "type": "quantitative", "axis": null}, "text": {"field": "t"}}},
{"data": {"name": "pm"}, "mark": {"type": "text", "align": "left", "baseline": "middle", "fontSize": 12, "dx": 1.5},
 "encoding": {"x": {"datum": 2, "type": "quantitative", "axis": null}, "y": {"field": "r", "type": "quantitative", "axis": null}, "text": {"field": "t"},
  "color": {"field": "k", "type": "nominal", "legend": null, "scale": {"domain": ["neutral", "good", "bad", "na", "later"], "range": ["#1a1a1a", "#3a9a3a", "#cc2b2b", "#8fa2c2", "#a0a0a0"]}}}},
{"data": {"name": "cmp"}, "transform": [{"filter": "datum.r == 1"}], "mark": {"type": "text", "align": "center", "baseline": "middle", "fontSize": 15, "color": "#1a1a1a"},
 "encoding": {"x": {"field": "c", "type": "quantitative", "axis": null}, "y": {"field": "r", "type": "quantitative", "axis": null}, "text": {"field": "t"}}},
{"data": {"name": "cmp"}, "transform": [{"filter": "datum.r > 1 && datum.t == 'X'"}], "mark": {"type": "text", "align": "center", "baseline": "middle", "fontSize": 12, "fontWeight": "bold"},
 "encoding": {"x": {"field": "c", "type": "quantitative", "axis": null}, "y": {"field": "r", "type": "quantitative", "axis": null}, "text": {"field": "t"},
  "color": {"field": "k", "type": "nominal", "legend": null, "scale": {"domain": ["neutral", "good", "bad", "na", "later"], "range": ["#1a1a1a", "#3a9a3a", "#cc2b2b", "#8fa2c2", "#a0a0a0"]}}}},
{"data": {"name": "cmp"}, "transform": [{"filter": "datum.r > 1 && datum.t != 'X'"}], "mark": {"type": "text", "align": "center", "baseline": "middle", "fontSize": 12},
 "encoding": {"x": {"field": "c", "type": "quantitative", "axis": null}, "y": {"field": "r", "type": "quantitative", "axis": null}, "text": {"field": "t"},
  "color": {"field": "k", "type": "nominal", "legend": null, "scale": {"domain": ["neutral", "good", "bad", "na", "later"], "range": ["#1a1a1a", "#3a9a3a", "#cc2b2b", "#8fa2c2", "#a0a0a0"]}}}}
]
}
]
}
